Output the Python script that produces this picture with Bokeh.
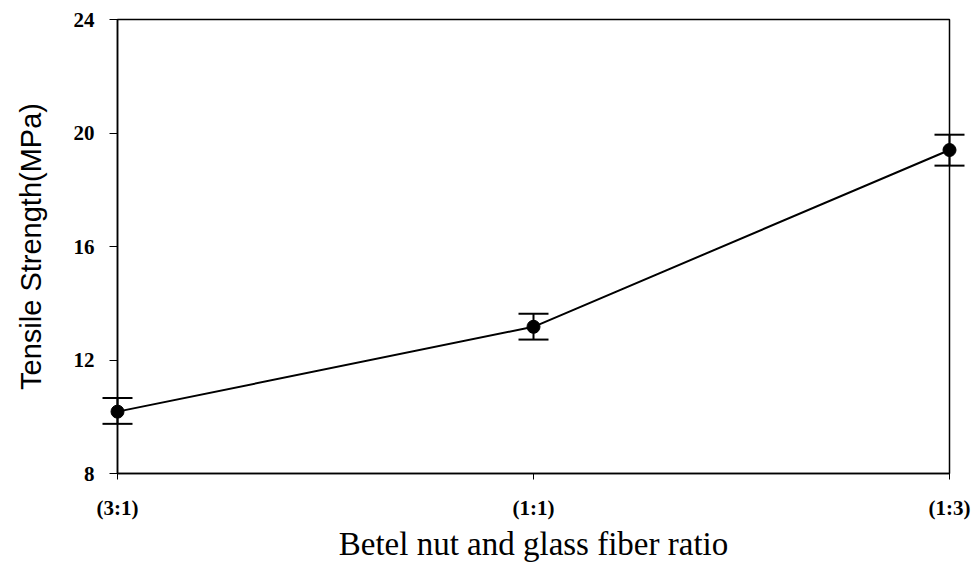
from bokeh.plotting import figure
from bokeh.models import ColumnDataSource, Range1d, FixedTicker
from bokeh.embed import file_html
from bokeh.resources import INLINE

categories = ["(3:1)", "(1:1)", "(1:3)"]
strength = [10.18, 13.17, 19.40]
upper_err = [10.66, 13.63, 19.94]
lower_err = [9.75, 12.72, 18.85]
y_ticks = [8, 12, 16, 20, 24]

xs = list(range(len(categories)))
src = ColumnDataSource(dict(x=xs, y=strength, upper=upper_err, lower=lower_err))

p = figure(width=980, height=565, output_backend="svg", toolbar_location=None,
           x_range=Range1d(0, len(categories) - 1), y_range=Range1d(8, 24),
           min_border_left=117, min_border_right=31, min_border_top=19, min_border_bottom=92)
p.background_fill_color = "white"
p.border_fill_color = "white"
p.outline_line_color = "black"
p.outline_line_width = 1.5
p.xgrid.visible = False
p.ygrid.visible = False

p.line("x", "y", source=src, line_color="black", line_width=2)
seg = p.segment(x0="x", y0="lower", x1="x", y1="upper", source=src, line_color="black", line_width=2)
seg.level = "overlay"
cap_u = p.scatter("x", "upper", source=src, marker="dash", size=30, line_color="black", line_width=2)
cap_u.level = "overlay"
cap_l = p.scatter("x", "lower", source=src, marker="dash", size=30, line_color="black", line_width=2)
cap_l.level = "overlay"
r = p.scatter("x", "y", source=src, size=13, marker="circle", fill_color="black", line_color="black")
r.level = "overlay"

ax = p.xaxis[0]
ax.ticker = FixedTicker(ticks=xs)
ax.major_label_overrides = {i: c for i, c in enumerate(categories)}
ax.minor_tick_line_color = None
ax.major_tick_out = 6
ax.major_tick_in = 0
ax.major_label_standoff = 16
ax.major_label_text_font = "Liberation Serif"
ax.major_label_text_font_style = "bold"
ax.major_label_text_font_size = "21px"
ax.major_label_text_color = "black"
ax.axis_line_width = 1.5
ax.axis_label = "Betel nut and glass fiber ratio"
ax.axis_label_text_font = "Liberation Serif"
ax.axis_label_text_font_style = "normal"
ax.axis_label_text_font_size = "33px"
ax.axis_label_text_color = "black"
ax.axis_label_standoff = 3

ay = p.yaxis[0]
ay.ticker = FixedTicker(ticks=y_ticks)
ay.minor_tick_line_color = None
ay.major_tick_out = 8
ay.major_tick_in = 0
ay.major_label_standoff = 15
ay.major_label_text_font = "Liberation Serif"
ay.major_label_text_font_style = "bold"
ay.major_label_text_font_size = "21px"
ay.major_label_text_color = "black"
ay.axis_line_width = 1.5
ay.axis_label = "Tensile Strength(MPa)"
ay.axis_label_text_font = "Liberation Sans"
ay.axis_label_text_font_style = "normal"
ay.axis_label_text_font_size = "29px"
ay.axis_label_text_color = "black"
ay.axis_label_standoff = 24

open("out.html", "w").write(file_html(p, INLINE))
